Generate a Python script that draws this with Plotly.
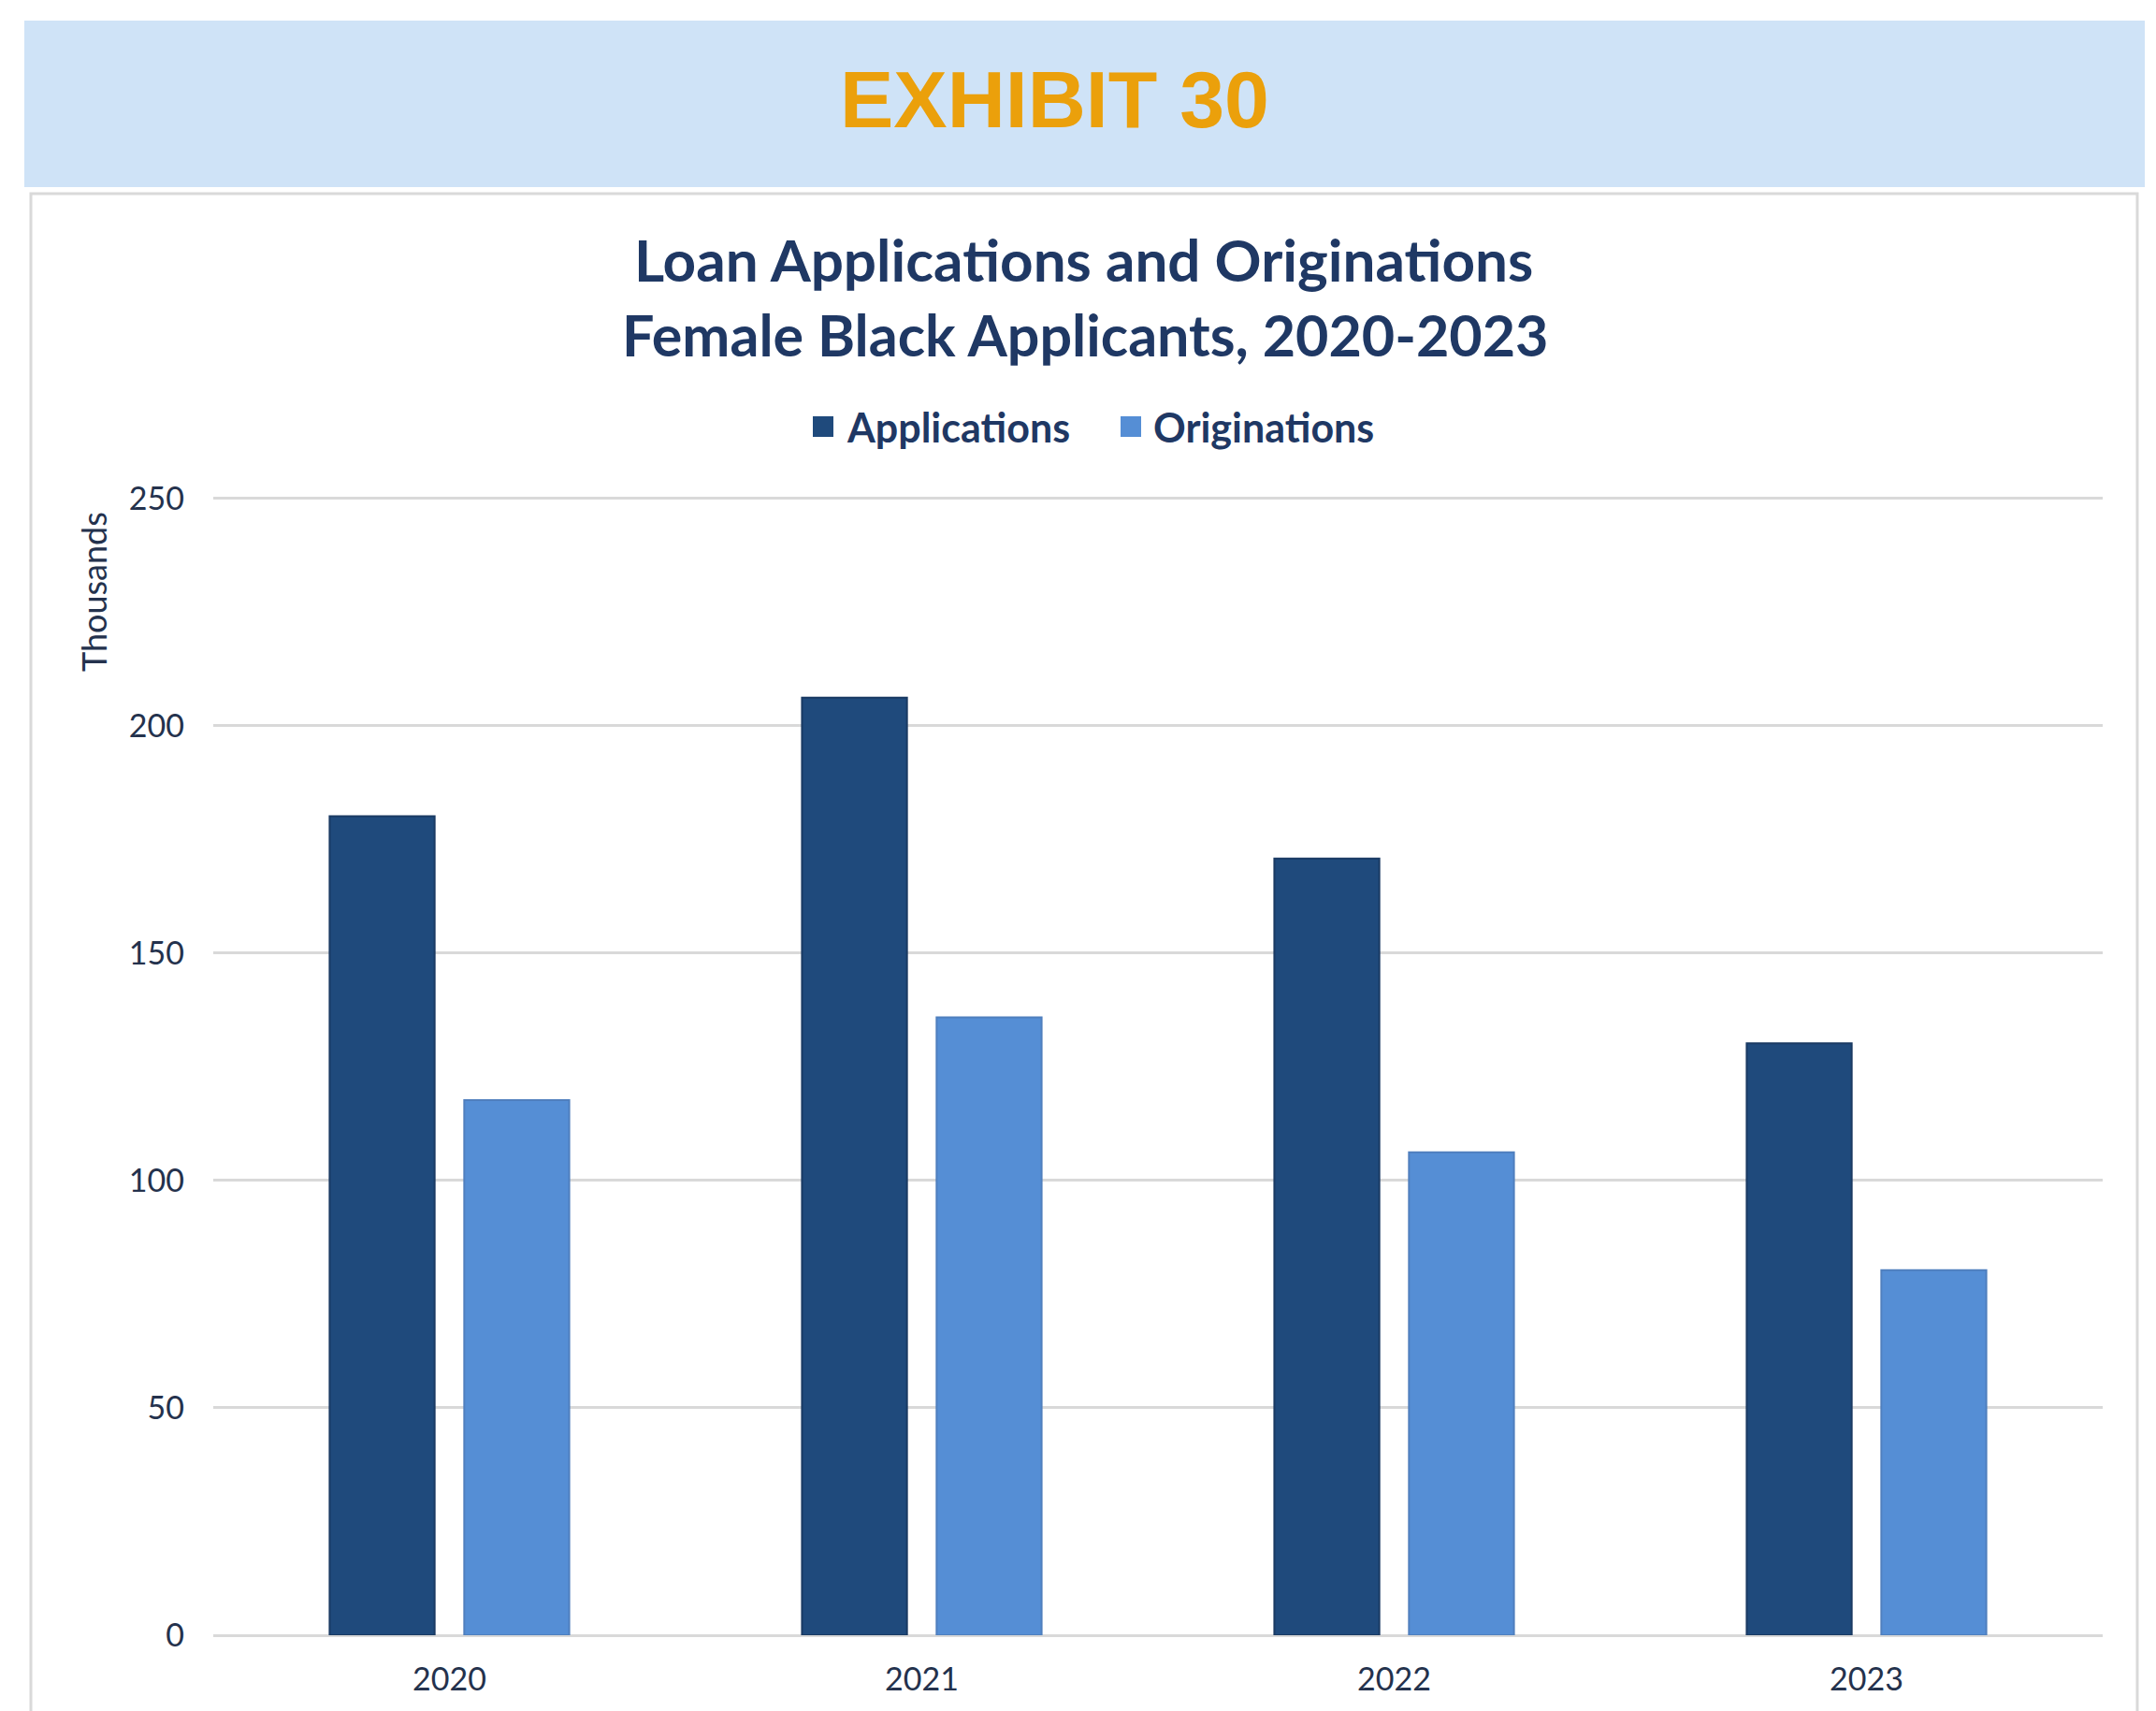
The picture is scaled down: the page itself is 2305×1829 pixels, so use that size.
import plotly.graph_objects as go

# Chart data (thousands of loans)
years = ["2020", "2021", "2022", "2023"]
applications = [180.1, 206.2, 170.8, 130.2]
originations = [117.7, 135.9, 106.2, 80.3]
series_names = ["Applications", "Originations"]
y_ticks = [0, 50, 100, 150, 200, 250]

# Page geometry (pixels)
W, H = 2305, 1829
Y_TOP = 251.0                      # a little headroom so the 250 gridline is drawn
ZERO_Y, UNIT = 1748, 243.0 / 50    # pixel row of 0 and pixels per thousand
ML, MR, MB = 228, 57, H - ZERO_Y
MT = int(round(ZERO_Y - Y_TOP * UNIT))
PW, PH = W - ML - MR, H - MT - MB

NAVY = "#1F4A7C"
LIGHT = "#558ED5"
TEXT = "#1F3864"
TICK = "#24324D"
FONT = "Lato"


def px_x(x):
    return (x - ML) / PW


def px_y(y):
    return (H - MB - y) / PH


fig = go.Figure()
fig.add_trace(go.Bar(
    x=years, y=applications, name=series_names[0],
    marker=dict(color=NAVY, line=dict(color="#1A3A63", width=2)),
    showlegend=False,
))
fig.add_trace(go.Bar(
    x=years, y=originations, name=series_names[1],
    marker=dict(color=LIGHT, line=dict(color="#4F7FBE", width=2)),
    showlegend=False,
))

shapes = [
    # header band
    dict(type="rect", xref="paper", yref="paper",
         x0=px_x(26), x1=px_x(2293), y0=px_y(200), y1=px_y(22),
         fillcolor="#CFE3F7", line=dict(width=0), layer="below"),
    # chart frame
    dict(type="rect", xref="paper", yref="paper",
         x0=px_x(33), x1=px_x(2285), y0=px_y(1860), y1=px_y(207),
         fillcolor="rgba(0,0,0,0)", line=dict(color="#D9D9D9", width=3),
         layer="below"),
    # legend swatches
    dict(type="rect", xref="paper", yref="paper",
         x0=px_x(869), x1=px_x(891), y0=px_y(467), y1=px_y(445),
         fillcolor=NAVY, line=dict(width=0)),
    dict(type="rect", xref="paper", yref="paper",
         x0=px_x(1198), x1=px_x(1220), y0=px_y(467), y1=px_y(445),
         fillcolor=LIGHT, line=dict(width=0)),
]

annotations = [
    dict(text="EXHIBIT 30", x=px_x(1127), y=px_y(106), xref="paper", yref="paper",
         xanchor="center", yanchor="middle", showarrow=False,
         font=dict(family="Liberation Sans", size=86, color="#EBA00B", weight="bold")),
    dict(text="Loan Applications and Originations", x=px_x(1158), y=px_y(277),
         xref="paper", yref="paper", xanchor="center", yanchor="middle", showarrow=False,
         font=dict(family=FONT, size=62, color=TEXT, weight="bold")),
    dict(text="Female Black Applicants, 2020-2023", x=px_x(1160), y=px_y(357),
         xref="paper", yref="paper", xanchor="center", yanchor="middle", showarrow=False,
         font=dict(family=FONT, size=61, color=TEXT, weight="bold")),
    dict(text=series_names[0], x=px_x(903), y=px_y(456), xref="paper", yref="paper",
         xanchor="left", yanchor="middle", showarrow=False,
         font=dict(family=FONT, size=43, color=TEXT, weight="bold")),
    dict(text=series_names[1], x=px_x(1231), y=px_y(456), xref="paper", yref="paper",
         xanchor="left", yanchor="middle", showarrow=False,
         font=dict(family=FONT, size=43, color=TEXT, weight="bold")),
    dict(text="Thousands", x=px_x(100), y=px_y(633), xref="paper", yref="paper",
         xanchor="center", yanchor="middle", textangle=-90, showarrow=False,
         font=dict(family=FONT, size=36, color=TICK)),
]

fig.update_layout(
    width=W, height=H,
    margin=dict(l=ML, r=MR, t=MT, b=MB, pad=0),
    paper_bgcolor="white", plot_bgcolor="white",
    barmode="group", bargap=0.43, bargroupgap=0.22,
    shapes=shapes, annotations=annotations,
    font=dict(family=FONT, color=TICK),
)
fig.update_xaxes(
    type="category", showgrid=False, showline=False, ticks="",
    tickfont=dict(family=FONT, size=34, color=TICK), ticklabelstandoff=24,
)
fig.update_yaxes(
    range=[0, Y_TOP], tickvals=y_ticks, showline=False, ticks="",
    gridcolor="#D9D9D9", gridwidth=3, zeroline=True, zerolinecolor="#D9D9D9",
    zerolinewidth=3, tickfont=dict(family=FONT, size=34, color=TICK),
    ticklabelstandoff=30,
)

fig.write_html("out.html")
